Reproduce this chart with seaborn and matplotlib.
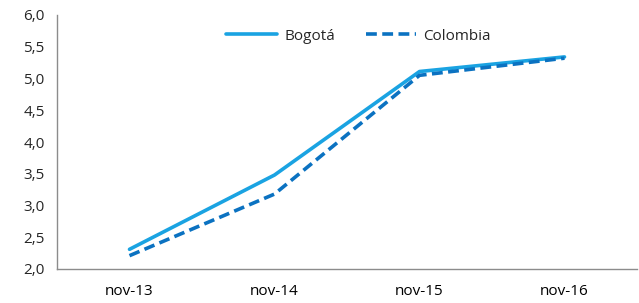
import matplotlib
matplotlib.use("Agg")
import matplotlib.pyplot as plt
import seaborn as sns
import pandas as pd
import numpy as np
from matplotlib.ticker import FixedLocator, FuncFormatter

categories = ["nov-13", "nov-14", "nov-15", "nov-16"]
bogota = [2.31, 3.48, 5.11, 5.34]
colombia = [2.21, 3.18, 5.05, 5.32]

sns.set_theme(style="white")
plt.rcParams['font.family'] = ['Open Sans', 'DejaVu Sans']

df = pd.DataFrame({
    "x": list(range(len(categories))) * 2,
    "valor": bogota + colombia,
    "serie": ["Bogotá"] * len(categories) + ["Colombia"] * len(categories),
})

fig = plt.figure(figsize=(6.39, 3.03), dpi=100)
ax = fig.add_axes([57/639, 1 - 269/303, (637-57)/639, (269-15)/303])

sns.lineplot(data=df, x="x", y="valor", hue="serie", style="serie",
             palette={"Bogotá": "#1AA3E2", "Colombia": "#0B72C1"},
             dashes={"Bogotá": "", "Colombia": (3, 1.5)},
             linewidth=2.6, ax=ax, legend=True)

ax.set_xlim(-0.5, 3.5)
ax.set_ylim(2.0, 6.0)
ax.set_yticks(np.arange(2.0, 6.01, 0.5))
ax.yaxis.set_major_formatter(FuncFormatter(lambda v, p: f"{v:.1f}".replace(".", ",")))
ax.xaxis.set_major_locator(FixedLocator([-0.5, 0.5, 1.5, 2.5, 3.5]))
ax.xaxis.set_major_formatter(FuncFormatter(lambda v, p: ""))
ax.xaxis.set_minor_locator(FixedLocator(range(len(categories))))
ax.set_xticklabels(categories, minor=True)
ax.tick_params(axis="x", which="minor", length=0, pad=11, labelsize=11, colors="#000000")
ax.tick_params(axis="x", which="major", length=4, width=1, color="#8C8C8C", direction="out")
ax.tick_params(axis="y", length=4, width=1, color="#8C8C8C", direction="out", labelsize=11, pad=5)
ax.set_xlabel("")
ax.set_ylabel("")
for s in ["top", "right"]:
    ax.spines[s].set_visible(False)
for s in ["left", "bottom"]:
    ax.spines[s].set_color("#8C8C8C")
    ax.spines[s].set_linewidth(1)

leg = ax.legend(loc="upper center", bbox_to_anchor=(0.52, 1.0), ncol=2, frameon=False,
                fontsize=11, handlelength=3.3, columnspacing=2.0, handletextpad=0.5)

fig.savefig("out.png", dpi=100)
